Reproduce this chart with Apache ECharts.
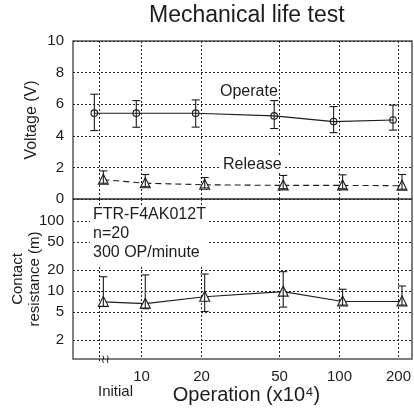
<!DOCTYPE html>
<html><head><meta charset="utf-8">
<script src="https://cdn.jsdelivr.net/npm/echarts@6/dist/echarts.min.js"></script>
<style>html,body{margin:0;padding:0;background:#fff}#c{width:414px;height:411px}</style>
</head><body><div id="c"></div>
<script>
// ---- data ----
const categories = ['Initial', '10', '20', '50', '100', '200'];
const operations = [6.13, 10, 20, 50, 100, 200]; // x10^4 operations; "Initial" sits left of the axis break
const operateMean = [5.43, 5.43, 5.43, 5.26, 4.90, 5.00];
const operateHigh = [6.63, 6.23, 6.27, 6.23, 5.85, 5.94];
const operateLow  = [4.33, 4.54, 4.55, 4.46, 4.20, 4.36];
const releaseMean = [1.22, 1.00, 0.90, 0.86, 0.86, 0.84];
const releaseHigh = [1.78, 1.55, 1.36, 1.49, 1.53, 1.55];
const releaseLow  = [1.00, 0.78, 0.70, 0.65, 0.65, 0.62];
const resistMean  = [7.0, 6.6, 8.3, 9.8, 7.1, 7.1];
const resistHigh  = [16.0, 17.0, 17.5, 18.9, 10.6, 11.8];
const resistLow   = [6.0, 5.6, 5.1, 5.9, 6.3, 6.3];
const voltageTicks = [0, 2, 4, 6, 8, 10];
const resistTicks  = [2, 5, 10, 20, 50, 100];

const FONT = "'Liberation Sans', Arial, Helvetica, sans-serif";
const INK = '#1c1c1c';
const GRIDLINE = {show: true, lineStyle: {color: '#222', type: [2, 2], width: 1}};
const X_MIN = 4.507, X_MAX = 235.5;

function errSeries(xi, yi, means, lows, highs, marker, dashed, dx) {
  const data = operations.map((x, i) => [x, means[i], lows[i], highs[i]]);
  return {
    type: 'custom', xAxisIndex: xi, yAxisIndex: yi, data: data, clip: false, z: 5,
    renderItem: function (params, api) {
      const i = params.dataIndex;
      const p = api.coord([api.value(0), api.value(1)]);
      const lo = api.coord([api.value(0), api.value(2)]);
      const hi = api.coord([api.value(0), api.value(3)]);
      const x = p[0] + dx;
      const st = {stroke: INK, lineWidth: 1.1, fill: null};
      const ch = [];
      if (i < data.length - 1) {
        const q = api.coord([data[i + 1][0], data[i + 1][1]]);
        ch.push({type: 'line', z2: 1, shape: {x1: x, y1: p[1], x2: q[0] + dx, y2: q[1]},
          style: {stroke: INK, lineWidth: 1.1, lineDash: dashed ? [6, 4] : null}});
      }
      if (marker === 'triangle') {
        ch.push({type: 'polygon', z2: 2, shape: {points: [[x, p[1] - 5.5], [x - 5, p[1] + 4.5], [x + 5, p[1] + 4.5]]},
          style: {stroke: INK, lineWidth: 1.1, fill: '#fff'}});
      }
      ch.push({type: 'line', z2: 3, shape: {x1: x, y1: hi[1], x2: x, y2: lo[1]}, style: st});
      ch.push({type: 'line', z2: 3, shape: {x1: x - 4, y1: hi[1], x2: x + 4, y2: hi[1]}, style: st});
      ch.push({type: 'line', z2: 3, shape: {x1: x - 4, y1: lo[1], x2: x + 4, y2: lo[1]}, style: st});
      if (marker === 'circle') {
        ch.push({type: 'circle', z2: 4, shape: {cx: x, cy: p[1], r: 3.3}, style: {stroke: INK, lineWidth: 1.1, fill: null}});
      }
      return {type: 'group', children: ch};
    }
  };
}

// vertical grid lines (and, for the lower panel, the category labels) at each operation count
function xGridSeries(xi, yi, yRef, withLabels) {
  return {
    type: 'custom', xAxisIndex: xi, yAxisIndex: yi, z: 1, silent: true, clip: false,
    data: operations.map(x => [x, yRef]),
    renderItem: function (params, api) {
      const i = params.dataIndex;
      const cs = params.coordSys;
      const x = Math.round(api.coord([api.value(0), api.value(1)])[0]) + 0.5;
      const bottom = cs.y + cs.height;
      const ch = [{type: 'line', shape: {x1: x, y1: cs.y, x2: x, y2: bottom + (withLabels && i === 0 ? 2 : 0)},
        style: {stroke: '#222', lineWidth: 1, lineDash: [2, 2]}}];
      if (withLabels) {
        const txt = {fontSize: 15, fontFamily: FONT, fill: INK, align: 'center', verticalAlign: 'middle'};
        if (i === 0) {
          ch.push({type: 'text', style: Object.assign({text: categories[0], x: x + 16, y: bottom + 33}, txt)});
          ch.push({type: 'text', style: {text: '\u2240\u2240', x: x + 6, y: bottom + 1, align: 'center', verticalAlign: 'middle',
            fontSize: 12, fontFamily: 'DejaVu Sans', fill: INK}});
        } else {
          ch.push({type: 'text', style: Object.assign({text: categories[i], x: x, y: bottom + 18}, txt)});
        }
      }
      return {type: 'group', children: ch};
    }
  };
}

const gridBase = {left: 73, right: 2, show: true, borderColor: '#555', borderWidth: 1.5,
  backgroundColor: 'transparent', containLabel: false, outerBoundsMode: 'none'};

const chart = echarts.init(document.getElementById('c'), null, {renderer: 'canvas'});
chart.setOption({
  animation: false,
  textStyle: {fontFamily: FONT},
  title: {text: 'Mechanical life test', left: 149, top: 4, padding: 0,
    textStyle: {fontFamily: FONT, fontSize: 23, fontWeight: 'normal', color: INK}},
  grid: [
    Object.assign({top: 41, height: 158}, gridBase),
    Object.assign({top: 199, height: 160}, gridBase)
  ],
  xAxis: [
    {type: 'log', gridIndex: 0, min: X_MIN, max: X_MAX,
      axisLine: {show: false}, axisTick: {show: false}, axisLabel: {show: false}, splitLine: {show: false}},
    {type: 'log', gridIndex: 1, min: X_MIN, max: X_MAX,
      axisLine: {show: false}, axisTick: {show: false}, axisLabel: {show: false}, splitLine: {show: false},
      name: 'Operation (x10⁴)', nameLocation: 'middle', nameGap: 26, nameMoveOverlap: false,
      nameTextStyle: {fontSize: 20, color: INK, fontFamily: FONT, padding: [0, 0, 0, 8]}}
  ],
  yAxis: [
    {type: 'value', gridIndex: 0, min: 0, max: 10, interval: 2,
      axisLine: {show: false}, axisTick: {show: false},
      axisLabel: {margin: 9, fontSize: 15, color: INK, fontFamily: FONT,
        formatter: v => (voltageTicks.indexOf(v) >= 0 ? String(v) : '')},
      splitLine: GRIDLINE,
      name: 'Voltage (V)', nameLocation: 'middle', nameGap: 33, nameMoveOverlap: false,
      nameTextStyle: {fontSize: 16, color: INK, fontFamily: FONT}},
    {type: 'log', gridIndex: 1, min: 1.07, max: 206,
      axisLine: {show: false}, axisTick: {show: false, customValues: resistTicks},
      axisLabel: {customValues: resistTicks, margin: 9, fontSize: 15, color: INK, fontFamily: FONT,
        formatter: v => String(Math.round(v))},
      splitLine: GRIDLINE,
      name: 'Contact\nresistance (m)', nameLocation: 'middle', nameGap: 30, nameMoveOverlap: false,
      nameTextStyle: {fontSize: 15, lineHeight: 17, color: INK, fontFamily: FONT}}
  ],
  series: [
    xGridSeries(0, 0, 5, false),
    xGridSeries(1, 1, 10, true),
    errSeries(0, 0, operateMean, operateLow, operateHigh, 'circle', false, -5),
    errSeries(0, 0, releaseMean, releaseLow, releaseHigh, 'triangle', true, 4),
    errSeries(1, 1, resistMean, resistLow, resistHigh, 'triangle', false, 4)
  ],
  graphic: [
    {type: 'text', z: 100, left: 220, top: 84,
      style: {text: 'Operate', fontSize: 16, fontFamily: FONT, fill: INK}},
    {type: 'text', z: 100, left: 221, top: 157,
      style: {text: 'Release', fontSize: 16, fontFamily: FONT, fill: INK, backgroundColor: '#fff', padding: [0, 2]}},
    {type: 'text', z: 100, left: 90, top: 205,
      style: {text: 'FTR-F4AK012T\nn=20\n300 OP/minute', fontSize: 16, lineHeight: 19, fontFamily: FONT, fill: INK,
        backgroundColor: '#fff', padding: [0, 2, 4, 3]}}
  ]
});
</script>
</body></html>
